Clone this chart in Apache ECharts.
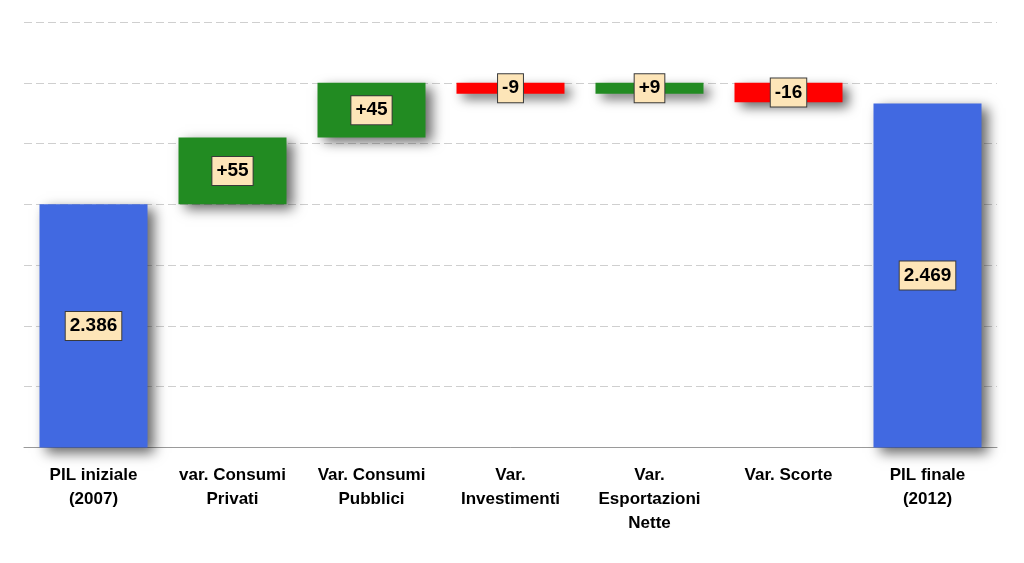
<!DOCTYPE html>
<html>
<head>
<meta charset="utf-8">
<script src="https://cdn.jsdelivr.net/npm/echarts@6/dist/echarts.min.js"></script>
<style>
  html, body { margin: 0; padding: 0; background: #fff; }
  #chart { width: 1024px; height: 563px; }
</style>
</head>
<body>
<div id="chart"></div>
<script>
const categories = ['PIL iniziale\n(2007)', 'var. Consumi\nPrivati', 'Var. Consumi\nPubblici',
    'Var.\nInvestimenti', 'Var.\nEsportazioni\nNette', 'Var. Scorte', 'PIL finale\n(2012)'];
const pilIniziale = 2386;
const pilFinale = 2469;
const variazioni = [55, 45, -9, 9, -16];   // the five middle steps
const axisMin = 2186;
const axisMax = 2536;
const axisStep = 50;

const chart = echarts.init(document.getElementById('chart'));

// build the floating pieces of the waterfall from the steps
const totals = [pilIniziale, '-', '-', '-', '-', '-', pilFinale];
const base = ['-'];
const delta = ['-'];
let level = pilIniziale;
variazioni.forEach(v => {
    base.push(v >= 0 ? level : level + v);
    delta.push({
        value: Math.abs(v),
        sign: v,
        itemStyle: { color: v >= 0 ? '#228B22' : '#FF0000' }
    });
    level += v;
});
base.push('-');
delta.push('-');

const fmtThousands = v => String(v).replace(/\B(?=(\d{3})+(?!\d))/g, '.');

const boxLabel = {
    show: true,
    position: 'inside',
    color: '#000',
    fontFamily: 'Liberation Sans',
    fontWeight: 'bold',
    fontSize: 19,
    backgroundColor: '#FDE5B8',
    borderColor: '#3a3a3a',
    borderWidth: 1,
    padding: [5, 4, 4, 4]
};

const shadow = {
    shadowBlur: 12,
    shadowOffsetX: 6,
    shadowOffsetY: 5,
    shadowColor: 'rgba(0,0,0,0.6)'
};

const option = {
    animation: false,
    grid: { left: 24, right: 27, top: 22, bottom: 115.5 },
    xAxis: {
        type: 'category',
        data: categories,
        axisLine: { lineStyle: { color: '#9a9a9a', width: 1 } },
        axisTick: { length: 5, lineStyle: { color: '#9a9a9a' } },
        axisLabel: {
            interval: 0,
            margin: 16,
            color: '#000',
            fontFamily: 'Liberation Sans',
            fontWeight: 'bold',
            fontSize: 17,
            lineHeight: 24
        }
    },
    yAxis: {
        type: 'value',
        min: axisMin,
        max: axisMax,
        interval: axisStep,
        axisLabel: { show: false },
        axisLine: { show: false },
        axisTick: { show: false },
        splitLine: { lineStyle: { color: '#cfcfcf', type: [8, 4], width: 1 } }
    },
    series: [
        {
            name: 'PIL',
            type: 'bar',
            barWidth: 108,
            barGap: '-100%',
            data: totals,
            itemStyle: Object.assign({ color: '#4169E1' }, shadow),
            label: Object.assign({}, boxLabel, { formatter: p => fmtThousands(p.value) }),
            z: 2
        },
        {
            name: 'base',
            type: 'bar',
            stack: 'step',
            barWidth: 108,
            data: base,
            itemStyle: { color: 'transparent' },
            silent: true
        },
        {
            name: 'variazione',
            type: 'bar',
            stack: 'step',
            barWidth: 108,
            data: delta,
            itemStyle: shadow,
            label: Object.assign({}, boxLabel, {
                formatter: p => (p.data.sign > 0 ? '+' : '') + p.data.sign
            })
        }
    ]
};

chart.setOption(option);
</script>
</body>
</html>
